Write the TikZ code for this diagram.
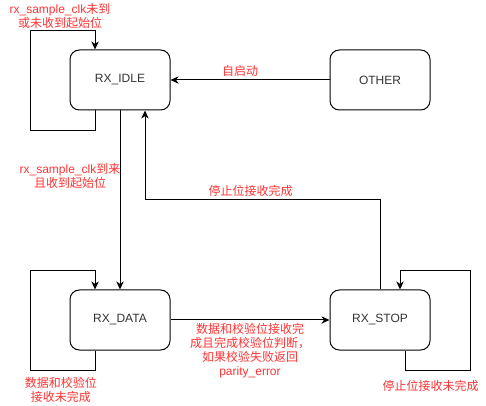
\documentclass[tikz,border=0pt]{standalone}
\usepackage{fontspec}
\setmainfont{Liberation Sans}
\newfontfamily\cjk{Noto Sans CJK SC}
\usetikzlibrary{arrows.meta,calc}
\definecolor{lblred}{HTML}{FF3333}
\definecolor{nodetxt}{HTML}{333333}
\tikzset{
  state/.style={draw=black, line width=0.75pt, rounded corners=7pt, minimum width=75pt, minimum height=45pt, inner sep=0pt, text=nodetxt, font=\fontsize{9}{10.5}\selectfont},
  arr/.style={draw=black, line width=0.75pt, -{Stealth[length=6pt,width=5.5pt,inset=1.8pt]}},
  lbl/.style={text=lblred, align=center, inner sep=0pt, font=\fontsize{9}{10.5}\selectfont}
}
\begin{document}
\begin{tikzpicture}[x=0.75pt,y=-0.75pt]
\useasboundingbox (0,0) rectangle (486,406);
\node[state] (idle) at (120,80) {RX\_IDLE};
\node[state] (other) at (380,80) {OTHER};
\node[state] (data) at (120,320) {RX\_DATA};
\node[state] (stop) at (380,320) {RX\_STOP};

\draw[arr] ($(idle.south)+(-25,0)$) -- ++(0,20) -| ++(-65,-100) -| ($(idle.north)+(-25,0)$);
\draw[arr] ($(data.south)+(-25,0)$) -- ++(0,20) -| ++(-65,-100) -| ($(data.north)+(-25,0)$);
\draw[arr] ($(stop.south)+(25,0)$) -- ++(0,20) -| ++(65,-100) -| ($(stop.north)+(20,0)$);
\draw[arr] (idle.south) -- (data.north);
\draw[arr] (stop.north) -- ++(0,-90) -| ($(idle.south)+(25,0)$);
\draw[arr] (other.west) -- (idle.east);
\draw[arr] (data.east) -- (stop.west);

\node[lbl] (l1) at (60,16) {rx\_sample\_clk{\cjk 未到}\\{\cjk 或未收到起始位}};
\node[lbl] (l2) at (70,175.5) {rx\_sample\_clk{\cjk 到来}\\{\cjk 且收到起始位}};
\node[lbl] (l3) at (240,70.5) {\cjk 自启动};
\node[lbl] (l4) at (250.5,191) {\cjk 停止位接收完成};
\node[lbl] (l5) at (250,351) {{\cjk 数据和校验位接收完}\\{\cjk 成且完成校验位判断，}\\{\cjk 如果校验失败返回}\\parity\_error};
\node[lbl] (l6) at (61,390) {{\cjk 数据和校验位}\\{\cjk 接收未完成}};
\node[lbl] (l7) at (430.5,386) {\cjk 停止位接收未完成};
\end{tikzpicture}
\end{document}
